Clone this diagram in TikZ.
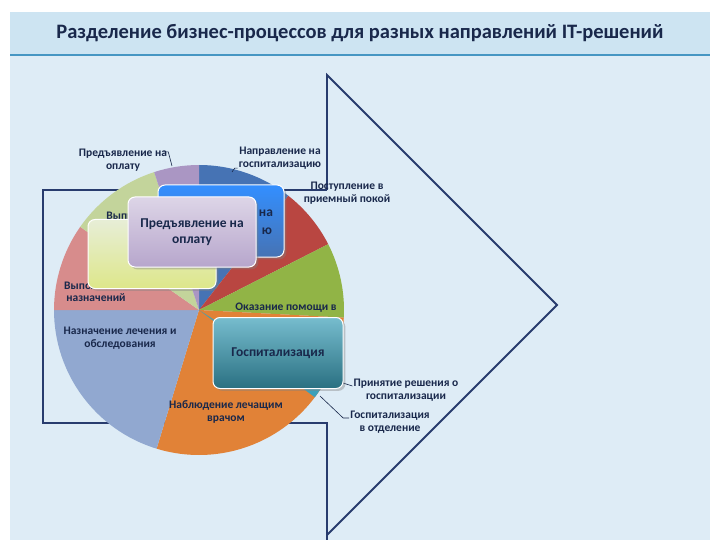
\documentclass[tikz,border=0pt]{standalone}
\usepackage{fontspec}
\setmainfont{Carlito}
\usetikzlibrary{shadows}
\definecolor{navy}{RGB}{25,40,75}
\definecolor{panel}{RGB}{222,236,246}
\definecolor{band}{RGB}{205,228,242}
\definecolor{rulec}{RGB}{70,150,195}
\definecolor{arrowc}{RGB}{40,60,110}
\definecolor{cblue}{RGB}{70,115,180}
\definecolor{cred}{RGB}{185,70,65}
\definecolor{cgreen}{RGB}{145,180,70}
\definecolor{corange}{RGB}{225,130,55}
\definecolor{cteal}{RGB}{60,160,185}
\definecolor{cgrey}{RGB}{145,168,208}
\definecolor{cpink}{RGB}{215,140,140}
\definecolor{clgreen}{RGB}{195,212,155}
\definecolor{cpurple}{RGB}{170,150,195}
\tikzset{
 lbl/.style={font=\bfseries\fontsize{11.5}{12.5}\selectfont, text=navy, align=center, inner sep=1pt},
 lead/.style={draw=navy, line width=0.6pt},
 card/.style={rounded corners=7pt, draw=white, line width=1pt, drop shadow={opacity=0.4}, align=center, text=navy, font=\bfseries\fontsize{13.5}{15.5}\selectfont},
}
\begin{document}
\begin{tikzpicture}[x=1pt,y=1pt]
\useasboundingbox (0,0) rectangle (720,-540);
\fill[white] (0,0) rectangle (720,-540);
\fill[panel] (10,-12) rectangle (710,-540);
\fill[band] (10,-12) rectangle (710,-54);
\draw[rulec, line width=2pt] (10,-55) -- (710,-55);
\node[font=\bfseries\fontsize{20.5}{22}\selectfont, text=navy] (title) at (360,-33) {Разделение бизнес-процессов для разных направлений IT-решений};
% arrow outline
\draw[arrowc, line width=1.8pt] (327,-190) -- (43,-190) -- (43,-423) -- (327,-423) -- (327,-540);
\draw[arrowc, line width=1.8pt] (327,-190) -- (327,-75) -- (557,-305) -- (327,-535);
% pie
\coordinate (c) at (199,-310);
\foreach \a/\b/\col in {52/90/cblue,27/52/cred,-3/27/cgreen,-107/-3/corange,-37/-33/cteal,180/253/cgrey,145/180/cpink,108/145/clgreen,90/108/cpurple}{
 \fill[\col] (c) -- ++(\a:145) arc[start angle=\a,end angle=\b,radius=145] -- cycle;
}
% labels
\node[lbl] (l1) at (123,-160) {Предъявление на\\оплату};
\node[lbl] (l2) at (280,-158) {Направление на\\госпитализацию};
\node[lbl] (l3) at (347,-193) {Поступление в\\приемный покой};
\node[lbl] (l4) at (286,-308) {Оказание помощи в};
\node[lbl] (l5) at (120,-338) {Назначение лечения и\\обследования};
\node[lbl] (l6) at (226,-412) {Наблюдение лечащим\\врачом};
\node[lbl] (l7) at (406,-390) {Принятие решения о\\госпитализации};
\node[lbl] (l8) at (390,-422) {Госпитализация\\в отделение};
\node[lbl] (l9) at (96,-292) {Выполнение\\назначений};
\node[lbl] (l10) at (128,-216) {Выписка};
\coordinate (p1) at (172,-166);
\coordinate (p2) at (232,-172);
\coordinate (p7) at (343,-383);
\coordinate (p8) at (320,-396);
\draw[lead] (l1.north east) ++(-6,-4) -- ++(6,0) -- (p1);
\draw[lead] (l2.south west) ++(0,2) -- ++(-3,0) -- (p2);
\draw[lead] (l7.west) ++(0,4) -- (p7);
\draw[lead] (l8.west) ++(0,4) -- ++(-6,0) -- (p8);
% cards
\node[card, top color=blue!55!cyan!80!white, bottom color=cblue, minimum width=126pt, minimum height=72pt] (b1) at (221,-221) {};
\node[lbl, font=\bfseries\fontsize{13.5}{15.5}\selectfont] (b1a) at (266,-213) {на};
\node[lbl, font=\bfseries\fontsize{13.5}{15.5}\selectfont] (b1b) at (267,-231) {ю};
\node[card, top color=clgreen!40!white, bottom color=clgreen!70!yellow!80!white, minimum width=128pt, minimum height=69pt] (b2) at (152,-254) {};
\node[card, top color=cpurple!40!white, bottom color=cpurple!85!white, minimum width=128pt, minimum height=70pt] (b3) at (192,-232) {Предъявление на\\оплату};
\node[card, top color=cteal!70!white, bottom color=cteal!70!black, minimum width=130pt, minimum height=71pt] (b4) at (278,-353) {Госпитализация};
\end{tikzpicture}
\end{document}
